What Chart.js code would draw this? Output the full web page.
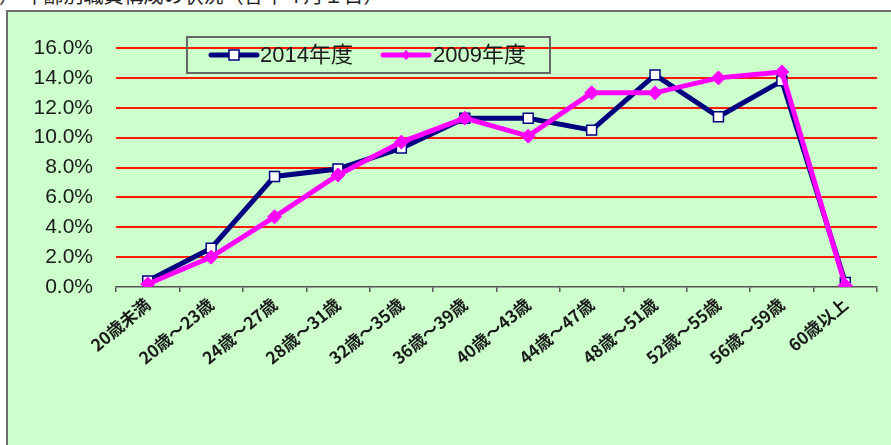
<!DOCTYPE html>
<html>
<head>
<meta charset="utf-8">
<script src="https://cdn.jsdelivr.net/npm/chart.js@4.4.0/dist/chart.umd.min.js"></script>
<style>
  html, body { margin: 0; padding: 0; width: 891px; height: 445px; overflow: hidden; background: #fff; }
  #title { position: absolute; left: -21px; top: -15px; font: 20px/20px 'Noto Sans CJK JP', sans-serif; white-space: nowrap; color: #222; }
  #box { position: absolute; left: 6px; top: 10px; width: 1000px; height: 1000px; border: 2px solid #6e6e6e; background: #ccffcc; }
  #wrap { position: absolute; left: 0; top: 0; width: 891px; height: 445px; }
</style>
</head>
<body>
<div id="title">ア） 年齢別職員構成の状況（各年４月１日）</div>
<div id="box"></div>
<div id="wrap"><canvas id="ageChart" width="891" height="445"></canvas></div>
<script>
// chart data (% of staff per age group)
const ageGroups = ['20歳未満', '20歳～23歳', '24歳～27歳', '28歳～31歳', '32歳～35歳', '36歳～39歳',
  '40歳～43歳', '44歳～47歳', '48歳～51歳', '52歳～55歳', '56歳～59歳', '60歳以上'];
const series2014 = [0.4, 2.6, 7.4, 7.9, 9.3, 11.3, 11.3, 10.5, 14.2, 11.4, 13.8, 0.3];
const series2009 = [0.2, 2.0, 4.7, 7.5, 9.7, 11.3, 10.1, 13.0, 13.0, 14.0, 14.4, 0.1];
const label2014 = '2014年度';
const label2009 = '2009年度';

const navy = '#000080';
const magenta = '#ff00ff';
const gridRed = '#ff1a00';
const axisGray = '#555555';
const textFont = "'Liberation Sans', 'Noto Sans CJK JP', sans-serif";

// legend box drawn inside the plot, like the original
const legendBox = {
  id: 'legendBox',
  afterDraw(chart) {
    const ctx = chart.ctx;
    ctx.save();
    ctx.strokeStyle = '#666666';
    ctx.lineWidth = 2;
    ctx.strokeRect(187, 37, 363, 36);

    // 2014 sample
    ctx.lineCap = 'round';
    ctx.strokeStyle = navy;
    ctx.lineWidth = 5;
    ctx.beginPath(); ctx.moveTo(211, 55); ctx.lineTo(257, 55); ctx.stroke();
    ctx.fillStyle = '#ffffff';
    ctx.lineWidth = 1.5;
    ctx.fillRect(229, 50, 10, 10);
    ctx.strokeRect(229, 50, 10, 10);

    // 2009 sample
    ctx.strokeStyle = magenta;
    ctx.lineWidth = 5;
    ctx.beginPath(); ctx.moveTo(383, 55); ctx.lineTo(429, 55); ctx.stroke();
    ctx.fillStyle = magenta;
    ctx.beginPath();
    ctx.moveTo(406, 50); ctx.lineTo(411, 55); ctx.lineTo(406, 60); ctx.lineTo(401, 55);
    ctx.closePath(); ctx.fill();

    ctx.fillStyle = '#1a1a1a';
    ctx.font = '22px ' + textFont;
    ctx.textBaseline = 'middle';
    ctx.fillText(label2014, 260, 56);
    ctx.fillText(label2009, 433, 56);
    ctx.restore();
  }
};

const ctx = document.getElementById('ageChart').getContext('2d');
new Chart(ctx, {
  type: 'line',
  data: {
    labels: ageGroups,
    datasets: [
      {
        label: label2014,
        data: series2014,
        order: 1,
        borderColor: navy,
        borderWidth: 5,
        pointStyle: 'rect',
        pointRadius: 7,
        pointBackgroundColor: '#ffffff',
        pointBorderColor: navy,
        pointBorderWidth: 1.5,
        tension: 0
      },
      {
        label: label2009,
        data: series2009,
        order: 0,
        borderColor: magenta,
        borderWidth: 5,
        pointStyle: 'rectRot',
        pointRadius: 7,
        pointBackgroundColor: magenta,
        pointBorderColor: magenta,
        pointBorderWidth: 1,
        tension: 0
      }
    ]
  },
  options: {
    responsive: false,
    animation: false,
    layout: { padding: { left: 0, right: 14, top: 48, bottom: 0 } },
    plugins: {
      legend: { display: false },
      tooltip: { enabled: false }
    },
    scales: {
      x: {
        offset: true,
        afterFit: scale => { scale.height = 158; },
        grid: {
          offset: true,
          drawOnChartArea: false,
          drawTicks: true,
          tickLength: 5,
          color: axisGray,
          lineWidth: 1.5
        },
        border: { display: true, color: axisGray, width: 1.5 },
        ticks: {
          minRotation: 40,
          maxRotation: 40,
          autoSkip: false,
          padding: 2,
          color: '#1a1a1a',
          font: { family: "'Noto Sans CJK JP', sans-serif", size: 17, weight: 'bold' }
        }
      },
      y: {
        min: 0,
        max: 16,
        afterFit: scale => { scale.width = 116; },
        border: { display: false },
        grid: {
          drawTicks: false,
          lineWidth: 2,
          color: c => (c.tick && c.tick.value === 0) ? 'rgba(0,0,0,0)' : gridRed
        },
        ticks: {
          stepSize: 2,
          padding: 23,
          color: '#1a1a1a',
          font: { family: textFont, size: 21 },
          callback: v => v.toFixed(1) + '%'
        }
      }
    }
  },
  plugins: [legendBox]
});
</script>
</body>
</html>
